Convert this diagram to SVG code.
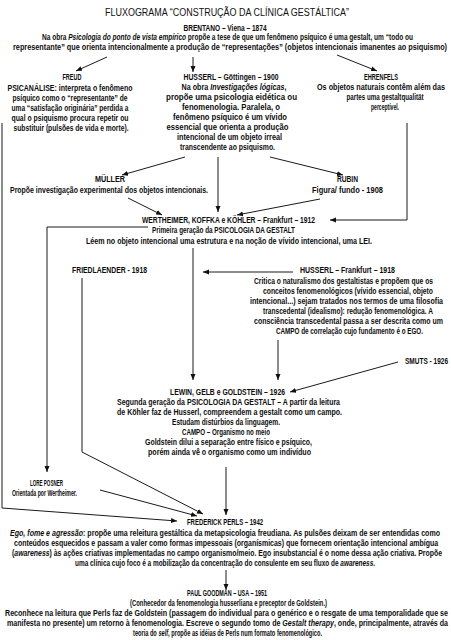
<svg xmlns="http://www.w3.org/2000/svg" width="451" height="640" viewBox="0 0 451 640">
<style>
.t{font-family:"Liberation Sans",Arial,sans-serif;font-weight:bold;font-size:8.2px;text-anchor:middle;fill:#0d0d0d}
.i{font-style:italic}
.h{font-family:"Liberation Sans",Arial,sans-serif;font-size:11.5px;text-anchor:middle;fill:#111}
.c{fill:none;stroke:#1a1a1a;stroke-width:1}
</style>
<defs>
<marker id="a" markerWidth="6" markerHeight="6" refX="6" refY="3" orient="auto" markerUnits="userSpaceOnUse">
<path d="M0,0.5 L6,3 L0,5.5 Z" fill="#111"/>
</marker>
</defs>
<rect width="451" height="640" fill="#fff"/>
<text class="h" transform="translate(227,16) scale(0.72,1)" textLength="338.9" lengthAdjust="spacingAndGlyphs">FLUXOGRAMA “CONSTRUÇÃO DA CLÍNICA GESTÁLTICA”</text>

<g id="brentano">
<text class="t" transform="translate(225,30.5) scale(0.72,1)" textLength="115.3" lengthAdjust="spacingAndGlyphs">BRENTANO – Viena – 1874</text>
<text class="t" transform="translate(227.5,40) scale(0.72,1)" textLength="515.3" lengthAdjust="spacingAndGlyphs">Na obra <tspan class="i">Psicologia do ponto de vista empírico</tspan> propõe a tese de que um fenômeno psíquico é uma gestalt, um “todo ou</text>
<text class="t" transform="translate(230,49.5) scale(0.72,1)" textLength="602.8" lengthAdjust="spacingAndGlyphs">representante” que orienta intencionalmente a produção de “representações” (objetos intencionais imanentes ao psiquismo)</text>
</g>

<g id="freud">
<text class="t" transform="translate(72,79.5) scale(0.72,1)" textLength="26.4" lengthAdjust="spacingAndGlyphs">FREUD</text>
<text class="t" transform="translate(70,91) scale(0.72,1)" textLength="173.6" lengthAdjust="spacingAndGlyphs">PSICANÁLISE: interpreta o fenômeno</text>
<text class="t" transform="translate(70,101) scale(0.72,1)" textLength="159.7" lengthAdjust="spacingAndGlyphs">psíquico como o “representante” de</text>
<text class="t" transform="translate(70,111) scale(0.72,1)" textLength="162.5" lengthAdjust="spacingAndGlyphs">uma “satisfação originária” perdida a</text>
<text class="t" transform="translate(70,121) scale(0.72,1)" textLength="162.5" lengthAdjust="spacingAndGlyphs">qual o psiquismo procura repetir ou</text>
<text class="t" transform="translate(71,131) scale(0.72,1)" textLength="159.7" lengthAdjust="spacingAndGlyphs">substituir (pulsões de vida e morte).</text>
</g>

<g id="husserl1900">
<text class="t" transform="translate(231,79.5) scale(0.72,1)" textLength="131.9" lengthAdjust="spacingAndGlyphs">HUSSERL – Göttingen – 1900</text>
<text class="t" transform="translate(234,90) scale(0.72,1)" textLength="145.8" lengthAdjust="spacingAndGlyphs">Na obra <tspan class="i">Investigações lógicas</tspan>,</text>
<text class="t" transform="translate(231.5,100) scale(0.72,1)" textLength="181.9" lengthAdjust="spacingAndGlyphs">propõe uma psicologia eidética ou</text>
<text class="t" transform="translate(231,110) scale(0.72,1)" textLength="136.1" lengthAdjust="spacingAndGlyphs">fenomenologia. Paralela, o</text>
<text class="t" transform="translate(230,120) scale(0.72,1)" textLength="158.3" lengthAdjust="spacingAndGlyphs">fenômeno psíquico é um vívido</text>
<text class="t" transform="translate(227.5,130) scale(0.72,1)" textLength="169.4" lengthAdjust="spacingAndGlyphs">essencial que orienta a produção</text>
<text class="t" transform="translate(229.5,140) scale(0.72,1)" textLength="145.8" lengthAdjust="spacingAndGlyphs">intencional de um objeto irreal</text>
<text class="t" transform="translate(227.5,150) scale(0.72,1)" textLength="131.9" lengthAdjust="spacingAndGlyphs">transcendente ao psiquismo.</text>
</g>

<g id="ehrenfels">
<text class="t" transform="translate(381,79.5) scale(0.72,1)" textLength="47.2" lengthAdjust="spacingAndGlyphs">EHRENFELS</text>
<text class="t" transform="translate(381,89.5) scale(0.72,1)" textLength="177.8" lengthAdjust="spacingAndGlyphs">Os objetos naturais contêm além das</text>
<text class="t" transform="translate(385,99.5) scale(0.72,1)" textLength="106.9" lengthAdjust="spacingAndGlyphs">partes uma gestaltqualität</text>
<text class="t" transform="translate(385,109.5) scale(0.72,1)" textLength="38.9" lengthAdjust="spacingAndGlyphs">perceptível.</text>
</g>

<g id="muller">
<text class="t" transform="translate(110,181.5) scale(0.72,1)" textLength="41.7" lengthAdjust="spacingAndGlyphs">MÜLLER</text>
<text class="t" transform="translate(109,192.5) scale(0.72,1)" textLength="275" lengthAdjust="spacingAndGlyphs">Propõe investigação experimental dos objetos intencionais.</text>
</g>

<g id="rubin">
<text class="t" transform="translate(347.5,181.5) scale(0.72,1)" textLength="29.2" lengthAdjust="spacingAndGlyphs">RUBIN</text>
<text class="t" transform="translate(347.5,192.5) scale(0.72,1)" textLength="98.6" lengthAdjust="spacingAndGlyphs">Figura/ fundo - 1908</text>
</g>

<g id="wertheimer">
<text class="t" transform="translate(228.5,222.5) scale(0.72,1)" textLength="240.3" lengthAdjust="spacingAndGlyphs">WERTHEIMER, KOFFKA e KÖHLER – Frankfurt – 1912</text>
<text class="t" transform="translate(223.5,233) scale(0.72,1)" textLength="198.6" lengthAdjust="spacingAndGlyphs">Primeira geração da PSICOLOGIA DA GESTALT</text>
<text class="t" transform="translate(229,243.5) scale(0.72,1)" textLength="397.2" lengthAdjust="spacingAndGlyphs">Léem no objeto intencional uma estrutura e na noção de vívido intencional, uma LEI.</text>
</g>

<g id="friedlaender">
<text class="t" transform="translate(109.5,272.5) scale(0.72,1)" textLength="104.2" lengthAdjust="spacingAndGlyphs">FRIEDLAENDER - 1918</text>
</g>

<g id="husserl1918">
<text class="t" transform="translate(347.5,272.5) scale(0.72,1)" textLength="131.9" lengthAdjust="spacingAndGlyphs">HUSSERL – Frankfurt – 1918</text>
<text class="t" transform="translate(343.5,284) scale(0.72,1)" textLength="248.6" lengthAdjust="spacingAndGlyphs">Critica o naturalismo dos gestaltistas e propõem que os</text>
<text class="t" transform="translate(348,294) scale(0.72,1)" textLength="236.1" lengthAdjust="spacingAndGlyphs">conceitos fenomenológicos (vívido essencial, objeto</text>
<text class="t" transform="translate(346.5,304) scale(0.72,1)" textLength="268.1" lengthAdjust="spacingAndGlyphs">intencional...) sejam tratados nos termos de uma filosofia</text>
<text class="t" transform="translate(348,314) scale(0.72,1)" textLength="236.1" lengthAdjust="spacingAndGlyphs">transcedental (idealismo): redução fenomenológica. A</text>
<text class="t" transform="translate(348.5,324) scale(0.72,1)" textLength="262.5" lengthAdjust="spacingAndGlyphs">consciência transcedental passa a ser descrita como um</text>
<text class="t" transform="translate(349.5,334) scale(0.72,1)" textLength="204.2" lengthAdjust="spacingAndGlyphs">CAMPO de correlação cujo fundamento é o EGO.</text>
</g>

<g id="smuts">
<text class="t" transform="translate(426.5,363.5) scale(0.72,1)" textLength="59.7" lengthAdjust="spacingAndGlyphs">SMUTS - 1926</text>
</g>

<g id="lewin">
<text class="t" transform="translate(227.5,394.5) scale(0.72,1)" textLength="159.7" lengthAdjust="spacingAndGlyphs">LEWIN, GELB e GOLDSTEIN – 1926</text>
<text class="t" transform="translate(228.5,404.5) scale(0.72,1)" textLength="309.7" lengthAdjust="spacingAndGlyphs">Segunda geração da PSICOLOGIA DA GESTALT – A partir da leitura</text>
<text class="t" transform="translate(229.5,415) scale(0.72,1)" textLength="312.5" lengthAdjust="spacingAndGlyphs">de Köhler faz de Husserl, compreendem a gestalt como um campo.</text>
<text class="t" transform="translate(226,425) scale(0.72,1)" textLength="150" lengthAdjust="spacingAndGlyphs">Estudam distúrbios da linguagem.</text>
<text class="t" transform="translate(226,435) scale(0.72,1)" textLength="122.2" lengthAdjust="spacingAndGlyphs">CAMPO – Organismo no meio</text>
<text class="t" transform="translate(228.5,444.5) scale(0.72,1)" textLength="231.9" lengthAdjust="spacingAndGlyphs">Goldstein dilui a separação entre físico e psíquico,</text>
<text class="t" transform="translate(229.5,454.5) scale(0.72,1)" textLength="226.4" lengthAdjust="spacingAndGlyphs">porém ainda vê o organismo como um indivíduo</text>
</g>

<g id="lore">
<text class="t" transform="translate(46.5,485.5) scale(0.72,1)" textLength="45.8" lengthAdjust="spacingAndGlyphs">LORE POSNER</text>
<text class="t" transform="translate(44.5,495.5) scale(0.72,1)" textLength="90.3" lengthAdjust="spacingAndGlyphs">Orientada por Wertheimer.</text>
</g>

<g id="perls">
<text class="t" transform="translate(225,524.5) scale(0.72,1)" textLength="105.6" lengthAdjust="spacingAndGlyphs">FREDERICK PERLS – 1942</text>
<text class="t" transform="translate(225,535.5) scale(0.72,1)" textLength="597.2" lengthAdjust="spacingAndGlyphs"><tspan class="i">Ego, fome e agressão</tspan>: propõe uma releitura gestáltica da metapsicologia freudiana. As pulsões deixam de ser entendidas como</text>
<text class="t" transform="translate(226,545.5) scale(0.72,1)" textLength="588.9" lengthAdjust="spacingAndGlyphs">conteúdos esquecidos e passam a valer como formas impessoais (organísmicas) que fornecem orientação intencional ambígua</text>
<text class="t" transform="translate(227,555.5) scale(0.72,1)" textLength="597.2" lengthAdjust="spacingAndGlyphs">(<tspan class="i">awareness</tspan>) às ações criativas implementadas no campo organismo/meio. Ego insubstancial é o nome dessa ação criativa. Propõe</text>
<text class="t" transform="translate(225,565.5) scale(0.72,1)" textLength="416.7" lengthAdjust="spacingAndGlyphs">uma clínica cujo foco é a mobilização da concentração do consulente em seu fluxo de <tspan class="i">awareness</tspan>.</text>
</g>

<g id="goodman">
<text class="t" transform="translate(227,595.5) scale(0.72,1)" textLength="111.1" lengthAdjust="spacingAndGlyphs">PAUL GOODMAN – USA – 1951</text>
<text class="t" transform="translate(228.5,605.5) scale(0.72,1)" textLength="273.6" lengthAdjust="spacingAndGlyphs">(Conhecedor da fenomenologia husserliana e preceptor de Goldstein.)</text>
<text class="t" transform="translate(226.5,616) scale(0.72,1)" textLength="615.3" lengthAdjust="spacingAndGlyphs">Reconhece na leitura que Perls faz de Goldstein (passagem do individual para o genérico e o resgate de uma temporalidade que se</text>
<text class="t" transform="translate(227.5,626) scale(0.72,1)" textLength="612.5" lengthAdjust="spacingAndGlyphs">manifesta no presente) um retorno à fenomenologia. Escreve o segundo tomo de <tspan class="i">Gestalt therapy</tspan>, onde, principalmente, através da</text>
<text class="t" transform="translate(227.5,636) scale(0.72,1)" textLength="262.5" lengthAdjust="spacingAndGlyphs">teoria do <tspan class="i">self</tspan>, propõe as idéias de Perls num formato fenomenológico.</text>
</g>

<g id="connectors" class="c">
<line x1="107" y1="57" x2="76" y2="71" marker-end="url(#a)"/>
<line x1="193" y1="57" x2="193" y2="72" marker-end="url(#a)"/>
<line x1="337" y1="55" x2="377" y2="71" marker-end="url(#a)"/>
<line x1="185" y1="157" x2="122" y2="175" marker-end="url(#a)"/>
<line x1="270" y1="157" x2="343" y2="175" marker-end="url(#a)"/>
<line x1="218" y1="157" x2="218" y2="212" marker-end="url(#a)"/>
<line x1="128" y1="198" x2="162" y2="215" marker-end="url(#a)"/>
<line x1="320" y1="199" x2="237" y2="215" marker-end="url(#a)"/>
<polyline points="407,123 407,220 330,220" marker-end="url(#a)"/>
<polyline points="148,227 47,227 47,472" marker-end="url(#a)"/>
<polyline points="2,123 2,508 177,521" marker-end="url(#a)"/>
<polyline points="82,278 82,452 203,514" marker-end="url(#a)"/>
<line x1="193" y1="248" x2="193" y2="380" marker-end="url(#a)"/>
<line x1="293" y1="272" x2="203" y2="272" marker-end="url(#a)"/>
<line x1="278" y1="340" x2="278" y2="380" marker-end="url(#a)"/>
<line x1="398" y1="362" x2="290" y2="392" marker-end="url(#a)"/>
<line x1="100" y1="490" x2="197" y2="516" marker-end="url(#a)"/>
<line x1="226" y1="467" x2="226" y2="515" marker-end="url(#a)"/>
<line x1="226" y1="570" x2="226" y2="590" marker-end="url(#a)"/>
</g>
</svg>
